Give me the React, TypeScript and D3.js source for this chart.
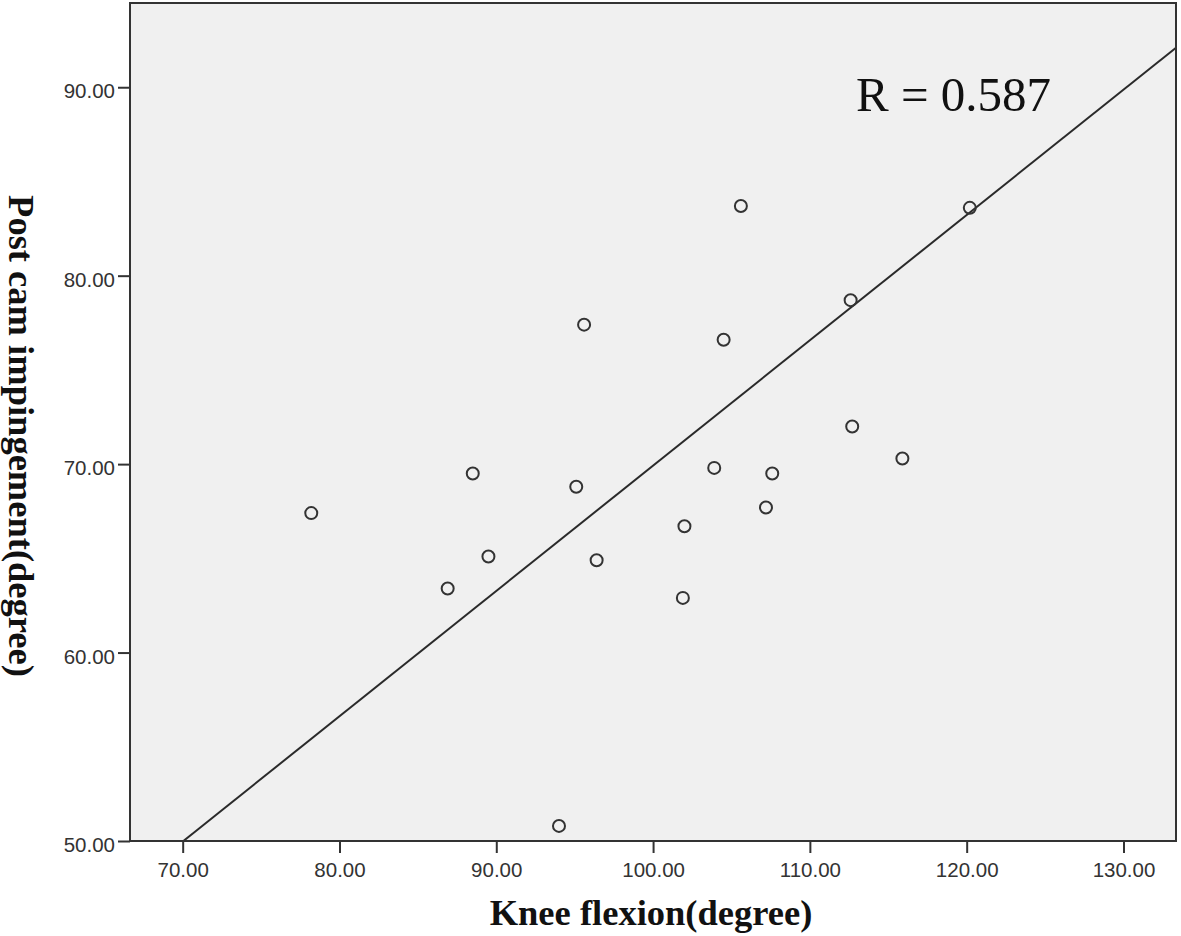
import React, { useEffect, useRef } from "react";
import * as d3 from "d3";

// values
const kneeFlexion = [78.2, 86.9, 88.5, 89.5, 94.0, 95.1, 95.6, 96.4, 101.9, 102.0, 103.9, 104.5, 105.6, 107.2, 107.6, 112.6, 112.7, 115.9, 120.2];
const postCam = [67.4, 63.4, 69.5, 65.1, 50.8, 68.8, 77.4, 64.9, 62.9, 66.7, 69.8, 76.6, 83.7, 67.7, 69.5, 78.7, 72.0, 70.3, 83.6];
const xTicks = [70, 80, 90, 100, 110, 120, 130];
const yTicks = [50, 60, 70, 80, 90];
const fitIntercept = 3.42;
const fitSlope = 0.665;
const rLabel = "R = 0.587";

const App = () => {
    const ref = useRef<HTMLDivElement>(null);

    useEffect(() => {
        const W = 1181;
        const H = 936;
        const plot = { left: 130, top: 3, right: 1176, bottom: 841 };

        const svg = d3
            .select(ref.current)
            .html("")
            .append("svg")
            .attr("width", W)
            .attr("height", H)
            .style("display", "block");

        const x = d3.scaleLinear().domain([66.64, 133.35]).range([plot.left, plot.right]);
        const y = d3.scaleLinear().domain([50, 94.47]).range([plot.bottom, plot.top]);

        svg.append("rect")
            .attr("x", plot.left)
            .attr("y", plot.top)
            .attr("width", plot.right - plot.left)
            .attr("height", plot.bottom - plot.top)
            .attr("fill", "#f0f0f0");

        svg.append("clipPath")
            .attr("id", "plotclip")
            .append("rect")
            .attr("x", plot.left)
            .attr("y", plot.top)
            .attr("width", plot.right - plot.left)
            .attr("height", plot.bottom - plot.top);

        // fit line, from where it leaves the bottom edge to the right edge
        const x0 = (50 - fitIntercept) / fitSlope;
        const x1 = x.domain()[1];
        svg.append("line")
            .attr("clip-path", "url(#plotclip)")
            .attr("x1", x(x0))
            .attr("y1", y(fitIntercept + fitSlope * x0))
            .attr("x2", x(x1))
            .attr("y2", y(fitIntercept + fitSlope * x1))
            .attr("stroke", "#2a2a2a")
            .attr("stroke-width", 2);

        svg.append("g")
            .selectAll("circle")
            .data(kneeFlexion.map((k, i) => [k, postCam[i]]))
            .join("circle")
            .attr("cx", (d) => x(d[0]))
            .attr("cy", (d) => y(d[1]))
            .attr("r", 6)
            .attr("fill", "none")
            .attr("stroke", "#333")
            .attr("stroke-width", 2);

        svg.append("rect")
            .attr("x", plot.left)
            .attr("y", plot.top)
            .attr("width", plot.right - plot.left)
            .attr("height", plot.bottom - plot.top)
            .attr("fill", "none")
            .attr("stroke", "#333")
            .attr("stroke-width", 2);

        const xAxis = svg
            .append("g")
            .attr("transform", `translate(0,${plot.bottom})`)
            .call(d3.axisBottom(x).tickValues(xTicks).tickSize(12).tickSizeOuter(0).tickPadding(9).tickFormat(d3.format(".2f")));

        const yAxis = svg
            .append("g")
            .attr("transform", `translate(${plot.left},0)`)
            .call(d3.axisLeft(y).tickValues(yTicks).tickSize(12).tickSizeOuter(0).tickPadding(3).tickFormat(d3.format(".2f")));

        [xAxis, yAxis].forEach((g) => {
            g.select(".domain").remove();
            g.selectAll("line").attr("stroke", "#333").attr("stroke-width", 2);
            g.selectAll("text")
                .attr("fill", "#333")
                .style("font-family", "'Liberation Sans', Arial, sans-serif")
                .style("font-size", "20.5px");
        });
        yAxis.selectAll("text").attr("dy", "0.52em");

        svg.append("text")
            .attr("x", 856)
            .attr("y", 111)
            .style("font-family", "'Liberation Serif', 'Times New Roman', serif")
            .style("font-size", "49px")
            .attr("fill", "#111")
            .text(rLabel);

        svg.append("text")
            .attr("x", 651)
            .attr("y", 925)
            .attr("text-anchor", "middle")
            .style("font-family", "'Liberation Serif', 'Times New Roman', serif")
            .style("font-size", "36.5px")
            .style("font-weight", "bold")
            .attr("fill", "#111")
            .text("Knee flexion(degree)");

        svg.append("text")
            .attr("transform", "translate(9,436) rotate(90)")
            .attr("text-anchor", "middle")
            .style("font-family", "'Liberation Serif', 'Times New Roman', serif")
            .style("font-size", "36.5px")
            .style("font-weight", "bold")
            .attr("fill", "#111")
            .text("Post cam impingement(degree)");
    }, []);

    return <div ref={ref} style={{ position: "absolute", left: 0, top: 0 }} />;
};

export default App;
